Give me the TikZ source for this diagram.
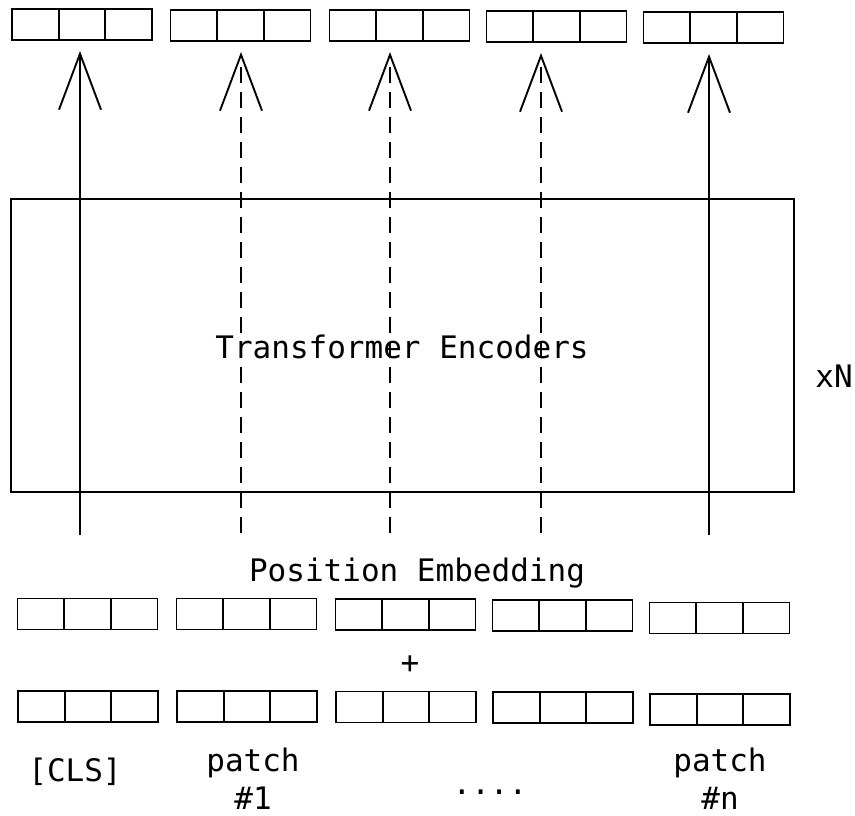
\documentclass[tikz,border=0pt]{standalone}
\usepackage{fontspec}
\setmonofont{DejaVu Sans Mono}
\usetikzlibrary{arrows.meta,calc}

% a token vector: a box split into three cells
\newcommand\tokvec[2]{%
  \node[vecbox] (#1) at (#2) {};
  \draw[rule] ($(#1.north west)!1/3!(#1.north east)$) -- ($(#1.south west)!1/3!(#1.south east)$);
  \draw[rule] ($(#1.north west)!2/3!(#1.north east)$) -- ($(#1.south west)!2/3!(#1.south east)$);
}

\begin{document}
\begin{tikzpicture}[x=1pt,y=-1pt,
  rule/.style={line width=1.9pt},
  vecbox/.style={draw, line width=1.9pt, minimum width=140pt, minimum height=31pt, inner sep=0pt, outer sep=0pt},
  lbl/.style={font=\fontsize{31}{38}\selectfont\ttfamily, inner sep=0pt, align=center},
  flow/.style={line width=1.9pt, -{Straight Barb[length=56pt,width=42pt]}, shorten >=11pt},
  skip/.style={flow, dash pattern=on 16pt off 9pt}
]
\useasboundingbox (0,0) rectangle (855,816);

% output vectors
\tokvec{t1}{82,24.5}
\tokvec{t2}{240.5,25.5}
\tokvec{t3}{399.5,25.5}
\tokvec{t4}{556.5,26.5}
\tokvec{t5}{713.5,27.5}

% encoder stack
\node[draw, rule, minimum width=783pt, minimum height=293pt, inner sep=0pt] (enc) at (402.5,345.5) {};
\node[lbl] (enclbl) at (402,347) {Transformer Encoders};
\node[lbl] (rep) at (834,376) {xN};

% flows through the encoder
\coordinate (s1) at (80,535);
\coordinate (s2) at (241,533);
\coordinate (s3) at (390,533);
\coordinate (s4) at (541,533);
\coordinate (s5) at (709,535);
\draw[flow] (s1) -- (s1 |- t1.south);
\draw[skip] (s2) -- (s2 |- t2.south);
\draw[skip] (s3) -- (s3 |- t3.south);
\draw[skip] (s4) -- (s4 |- t4.south);
\draw[flow] (s5) -- (s5 |- t5.south);

\node[lbl] (pos) at (417,573) {Position Embedding};

% position embeddings
\tokvec{p1}{87.5,614}
\tokvec{p2}{246.5,614}
\tokvec{p3}{405.5,614.5}
\tokvec{p4}{562.5,615.5}
\tokvec{p5}{719.5,618}

\node[lbl] (plus) at (410,665) {+};

% input tokens
\tokvec{e1}{88,706.5}
\tokvec{e2}{247,706.5}
\tokvec{e3}{406,707}
\tokvec{e4}{563,707.5}
\tokvec{e5}{720,709.5}

\node[lbl] (cls) at (75,772) {[CLS]};
\node[lbl] (pa1) at (253,779) {patch\\\#1};
\node[lbl] (dots) at (490,792) {....};
\node[lbl] (pan) at (720,779) {patch\\\#n};
\end{tikzpicture}
\end{document}
